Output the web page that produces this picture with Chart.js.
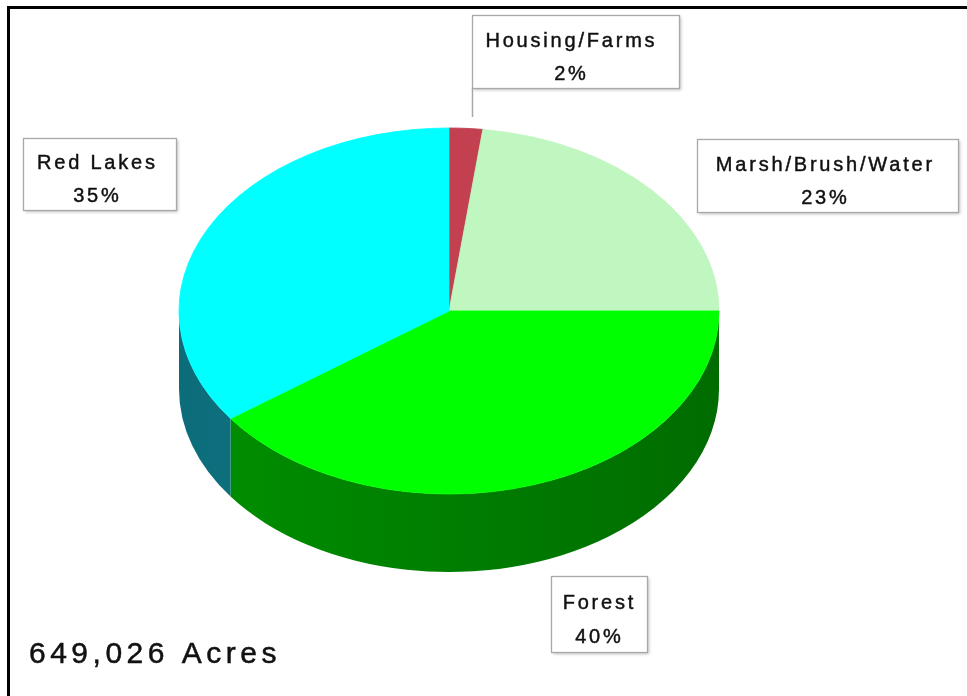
<!DOCTYPE html>
<html><head><meta charset="utf-8">
<script src="https://cdn.jsdelivr.net/npm/chart.js@4.4.1/dist/chart.umd.min.js"></script>
<style>html,body{margin:0;padding:0;background:#fff;overflow:hidden;} canvas{display:block;}</style>
</head><body>
<canvas id="c" width="967" height="696"></canvas>
<script>
// ---- data ----
const categories = ['Housing/Farms', 'Marsh/Brush/Water', 'Forest', 'Red Lakes'];
const percentages = [2, 23, 40, 35];
const totalLabel = '649,026 Acres';

// ---- style ----
const topColors  = ['#c2404f', '#c0f6c0', '#00ff00', '#00ffff'];
const sideColors = [['#8a2838','#6a1828'], ['#90c090','#70a070'], ['#009000','#006c00'], ['#0c6c7a','#1a8a98']];
const GEOM = { cx: 449, cy: 311, rx: 270, ry: 183, depth: 78 };
const labelBoxes = [
  { x: 472, y: 15,  w: 207, h: 73, tx: 570, l1: 41,  l2: 74 },
  { x: 697, y: 139, w: 261, h: 73, tx: 824, l1: 165, l2: 198 },
  { x: 551, y: 576, w: 96,  h: 76, tx: 598, l1: 603, l2: 637 },
  { x: 23,  y: 138, w: 153, h: 72, tx: 96,  l1: 163, l2: 196 }
];

function spacedText(ctx, txt, x, y) {
  ctx.fillText(txt, x, y);
  ctx.strokeText(txt, x, y);
}

const pie3d = {
  id: 'pie3d',
  beforeDatasetsDraw(chart) {
    const ctx = chart.ctx;
    const arcs = chart.getDatasetMeta(0).data;
    const { cx, cy, rx, ry, depth } = GEOM;
    arcs.forEach((arc, i) => {
      const p = arc.getProps(['startAngle', 'endAngle'], true);
      const a = Math.max(p.startAngle, 0), b = Math.min(p.endAngle, Math.PI);
      if (b <= a) return;
      const g = ctx.createLinearGradient(cx - rx, 0, cx + rx, 0);
      g.addColorStop(0, sideColors[i][0]);
      g.addColorStop(1, sideColors[i][1]);
      ctx.save();
      ctx.beginPath();
      ctx.ellipse(cx, cy, rx, ry, 0, a, b, false);
      ctx.ellipse(cx, cy + depth, rx, ry, 0, b, a, true);
      ctx.closePath();
      ctx.fillStyle = g;
      ctx.fill();
      ctx.restore();
    });
    const { x, y, outerRadius } = arcs[0].getProps(['x', 'y', 'outerRadius'], true);
    ctx.save();
    ctx.translate(cx, cy);
    ctx.scale(rx / outerRadius, ry / outerRadius);
    ctx.translate(-x, -y);
  },
  afterDatasetsDraw(chart) { chart.ctx.restore(); },
  afterDraw(chart) {
    const ctx = chart.ctx;
    ctx.save();
    // frame (top and left)
    ctx.fillStyle = '#000';
    ctx.fillRect(7, 6, 960, 3);
    ctx.fillRect(7, 6, 3, 690);
    // leader line for the small slice
    ctx.strokeStyle = '#a8a8a8';
    ctx.lineWidth = 1.5;
    ctx.beginPath(); ctx.moveTo(472.5, 88); ctx.lineTo(472.5, 117); ctx.stroke();
    // label boxes
    categories.forEach((name, i) => {
      const bx = labelBoxes[i];
      ctx.save();
      ctx.shadowColor = 'rgba(0,0,0,0.25)';
      ctx.shadowOffsetX = 2; ctx.shadowOffsetY = 2; ctx.shadowBlur = 3;
      ctx.fillStyle = '#fff';
      ctx.fillRect(bx.x, bx.y, bx.w, bx.h);
      ctx.restore();
      ctx.strokeStyle = '#a8a8a8';
      ctx.lineWidth = 1.3;
      ctx.strokeRect(bx.x + 0.5, bx.y + 0.5, bx.w, bx.h);
      ctx.fillStyle = '#111';
      ctx.strokeStyle = '#111';
      ctx.lineWidth = 0.45;
      ctx.font = '20px "Liberation Sans", Arial, sans-serif';
      ctx.letterSpacing = '2.8px';
      ctx.textAlign = 'center';
      ctx.textBaseline = 'middle';
      spacedText(ctx, name, bx.tx + 1.4, bx.l1);
      spacedText(ctx, percentages[i] + '%', bx.tx + 1.4, bx.l2);
    });
    ctx.font = '30px "Liberation Sans", Arial, sans-serif';
    ctx.letterSpacing = '4.5px';
    ctx.textAlign = 'left';
    ctx.textBaseline = 'middle';
    ctx.fillStyle = '#111';
    ctx.strokeStyle = '#111';
    ctx.lineWidth = 0.5;
    spacedText(ctx, totalLabel, 29, 655);
    ctx.restore();
  }
};

new Chart(document.getElementById('c'), {
  type: 'pie',
  data: {
    labels: categories,
    datasets: [{
      data: percentages,
      backgroundColor: topColors,
      borderColor: topColors,
      borderWidth: 1,
      hoverOffset: 0,
      offset: 0,
      clip: false,
      radius: 270
    }]
  },
  options: {
    responsive: false,
    animation: false,
    events: [],
    layout: { padding: 0 },
    plugins: { legend: { display: false }, tooltip: { enabled: false } }
  },
  plugins: [pie3d]
});
</script>
</body></html>
